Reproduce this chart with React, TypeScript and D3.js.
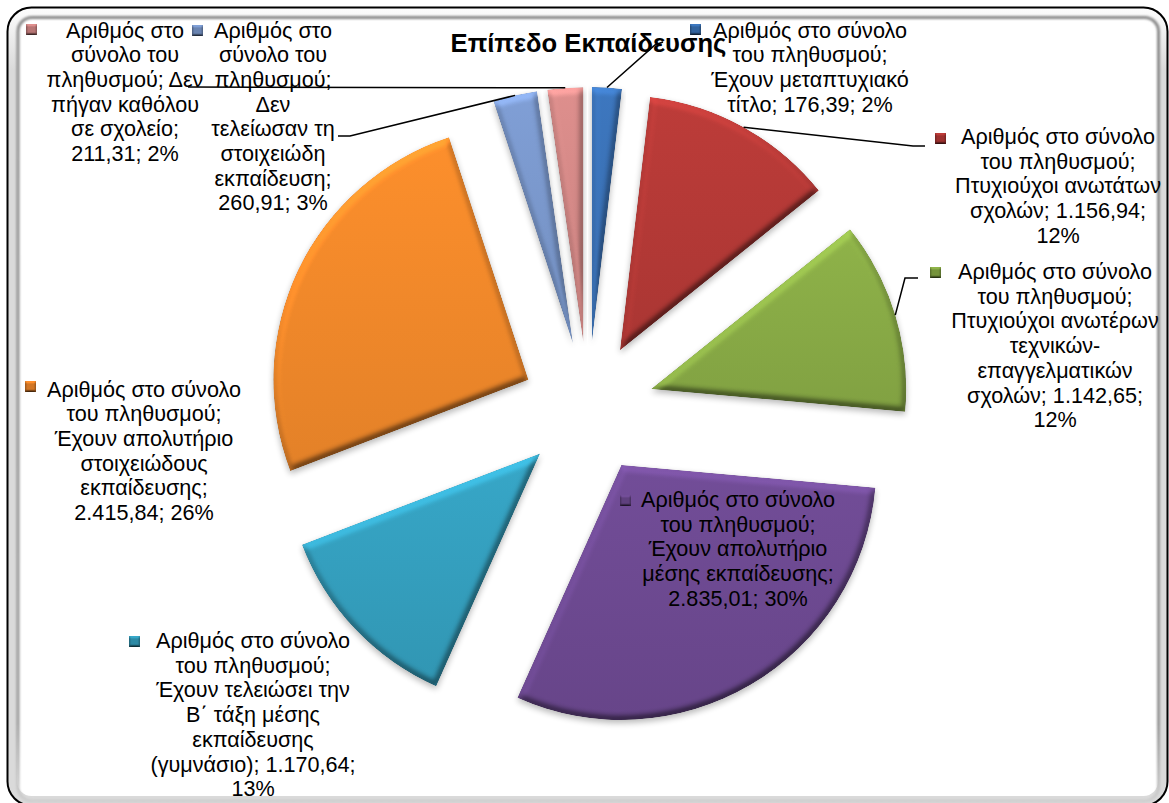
import React from "react";
import * as d3 from "d3";

// Education level of the population (thousands), clockwise from 12 o'clock
const levelNames = [
  "Έχουν μεταπτυχιακό τίτλο",
  "Πτυχιούχοι ανωτάτων σχολών",
  "Πτυχιούχοι ανωτέρων τεχνικών-επαγγελματικών σχολών",
  "Έχουν απολυτήριο μέσης εκπαίδευσης",
  "Έχουν τελειώσει την Β΄ τάξη μέσης εκπαίδευσης (γυμνάσιο)",
  "Έχουν απολυτήριο στοιχειώδους εκπαίδευσης",
  "Δεν τελείωσαν τη στοιχειώδη εκπαίδευση",
  "Δεν πήγαν καθόλου σε σχολείο",
];
const populationValues = [176.39, 1156.94, 1142.65, 2835.01, 1170.64, 2415.84, 260.91, 211.31];
const sliceColors = ["#3b74ba", "#b83a37", "#8bae47", "#6f4b94", "#35a2c2", "#f68b2b", "#7c9bd0", "#d88b89"];

// Wrapped text of each data label
const labelLines = [
  ["Αριθμός στο σύνολο", "του πληθυσμού;", "Έχουν μεταπτυχιακό", "τίτλο; 176,39; 2%"],
  ["Αριθμός στο σύνολο", "του πληθυσμού;", "Πτυχιούχοι ανωτάτων", "σχολών; 1.156,94;", "12%"],
  ["Αριθμός στο σύνολο", "του πληθυσμού;", "Πτυχιούχοι ανωτέρων", "τεχνικών-", "επαγγελματικών", "σχολών; 1.142,65;", "12%"],
  ["Αριθμός στο σύνολο", "του πληθυσμού;", "Έχουν απολυτήριο", "μέσης εκπαίδευσης;", "2.835,01; 30%"],
  ["Αριθμός στο σύνολο", "του πληθυσμού;", "Έχουν τελειώσει την", "Β΄ τάξη μέσης", "εκπαίδευσης", "(γυμνάσιο); 1.170,64;", "13%"],
  ["Αριθμός στο σύνολο", "του πληθυσμού;", "Έχουν απολυτήριο", "στοιχειώδους", "εκπαίδευσης;", "2.415,84; 26%"],
  ["Αριθμός στο", "σύνολο του", "πληθυσμού;", "Δεν", "τελείωσαν τη", "στοιχειώδη", "εκπαίδευση;", "260,91; 3%"],
  ["Αριθμός στο", "σύνολο του", "πληθυσμού; Δεν", "πήγαν καθόλου", "σε σχολείο;", "211,31; 2%"],
];

// Label placement: text centre, first baseline, legend key corner
const labelX = [810, 1058, 1055, 738, 253, 144, 273, 125];
const labelY = [37.5, 144, 279, 507, 648, 396.5, 37.5, 37.5];
const keyX = [690, 935, 930, 620, 129, 25, 192, 26];
const keyY = [24, 133, 267, 495, 636, 381, 25, 24];

// Leader line bend points, from the slice edge outward; empty where no line is drawn
const leaderBends: number[][][] = [
  [[655, 45], [663, 42]],
  [[913, 146], [925, 146]],
  [[905, 278], [918, 278]],
  [],
  [],
  [],
  [[350, 136], [338, 136]],
  [[188, 87]],
];

const CX = 588;
const CY = 408;
const RADIUS = 255;
const EXPLODE = 66;
const LINE_HEIGHT = 24.7;
const FONT = "'Liberation Sans', Arial, sans-serif";

export default function App() {
  const pie = d3.pie<number>().sort(null).startAngle(0).endAngle(2 * Math.PI);
  const arcs = pie(populationValues);
  const arc = d3.arc<d3.PieArcDatum<number>>().innerRadius(0).outerRadius(RADIUS);

  const polar = (a: number, r: number): [number, number] => [
    CX + Math.sin(a) * r,
    CY - Math.cos(a) * r,
  ];
  const mid = (d: d3.PieArcDatum<number>) => (d.startAngle + d.endAngle) / 2;
  const leader = d3.line();

  return (
    <svg
      width={1169}
      height={803}
      style={{ position: "absolute", left: 0, top: 0, display: "block" }}
    >
      <defs>
        {/* Rim bevel: the height map is eroded so the lit band sits just inside the edge */}
        <filter id="bevel" x="-10%" y="-10%" width="120%" height="125%" colorInterpolationFilters="sRGB">
          <feMorphology in="SourceAlpha" operator="erode" radius="1" result="inner" />
          <feGaussianBlur in="inner" stdDeviation="3" result="soft" />
          <feDiffuseLighting in="soft" surfaceScale="2.6" diffuseConstant="1" lightingColor="#fff" result="light">
            <feDistantLight azimuth="250" elevation="60" />
          </feDiffuseLighting>
          <feComposite in="SourceGraphic" in2="light" operator="arithmetic" k1="1.155" k2="0" k3="0" k4="0" result="lit" />
          <feComposite in="lit" in2="SourceAlpha" operator="in" result="shape" />
          <feGaussianBlur in="SourceAlpha" stdDeviation="3" result="shadowBlur" />
          <feOffset in="shadowBlur" dy="3" result="shadowOff" />
          <feComponentTransfer in="shadowOff" result="shadow">
            <feFuncA type="linear" slope="0.28" />
          </feComponentTransfer>
          <feMerge>
            <feMergeNode in="shadow" />
            <feMergeNode in="shape" />
          </feMerge>
        </filter>
        <filter id="keyBevel" x="-20%" y="-20%" width="140%" height="140%" colorInterpolationFilters="sRGB">
          <feGaussianBlur in="SourceAlpha" stdDeviation="1.1" result="soft" />
          <feDiffuseLighting in="soft" surfaceScale="1.4" diffuseConstant="1" lightingColor="#fff" result="light">
            <feDistantLight azimuth="270" elevation="55" />
          </feDiffuseLighting>
          <feComposite in="SourceGraphic" in2="light" operator="arithmetic" k1="1.22" k2="0" k3="0" k4="0" result="lit" />
          <feComposite in="lit" in2="SourceAlpha" operator="in" />
        </filter>
        {sliceColors.map((c, i) => (
          <linearGradient key={c} id={`body${i}`} x1="0" x2="0" y1="0" y2="1">
            <stop offset="0" stopColor={d3.color(c)?.brighter(0.08).formatHex()} />
            <stop offset="1" stopColor={d3.color(c)?.darker(0.22).formatHex()} />
          </linearGradient>
        ))}
        <linearGradient id="frameBand" gradientUnits="userSpaceOnUse" x1="0" x2="0" y1="8" y2="70">
          <stop offset="0" stopColor="#fdfdfd" />
          <stop offset="1" stopColor="#dadada" />
        </linearGradient>
        <linearGradient id="frameEdge" gradientUnits="userSpaceOnUse" x1="0" x2="0" y1="17" y2="802">
          <stop offset="0" stopColor="#8a8a8a" />
          <stop offset="0.9" stopColor="#969696" />
          <stop offset="1" stopColor="#cfcfcf" />
        </linearGradient>
        <filter id="frameSoft" x="-2%" y="-2%" width="104%" height="104%">
          <feGaussianBlur stdDeviation="0.9" />
        </filter>
        <clipPath id="frameClip">
          <rect x={7.5} y={7.5} width={1160} height={798} rx={24} />
        </clipPath>
      </defs>

      <rect width={1169} height={803} fill="#fff" />

      {/* Chart frame with its inset band */}
      <g clipPath="url(#frameClip)">
        <rect
          x={12.5}
          y={12.5}
          width={1150}
          height={788}
          rx={19}
          fill="none"
          stroke="url(#frameBand)"
          strokeWidth={9}
        />
        <rect
          x={18}
          y={17.5}
          width={1140.5}
          height={783.5}
          rx={14}
          fill="none"
          stroke="url(#frameEdge)"
          strokeWidth={3}
          filter="url(#frameSoft)"
        />
      </g>
      <rect x={7.5} y={7.5} width={1160} height={798} rx={24} fill="none" stroke="#000" strokeWidth={2} />

      {/* Exploded pie slices */}
      {arcs.map((d, i) => {
        const [tx, ty] = polar(mid(d), EXPLODE);
        return (
          <path
            key={levelNames[i]}
            d={arc(d) ?? ""}
            transform={`translate(${tx},${ty})`}
            fill={`url(#body${i})`}
            filter="url(#bevel)"
          />
        );
      })}

      <text
        x={588.5}
        y={52}
        textAnchor="middle"
        fontFamily={FONT}
        fontWeight="bold"
        fontSize={25.6}
        fill="#000"
      >
        Επίπεδο Εκπαίδευσης
      </text>

      {/* Leader lines run from the middle of each slice's rim */}
      {arcs.map((d, i) =>
        leaderBends[i].length ? (
          <path
            key={i}
            d={leader([polar(mid(d), RADIUS + EXPLODE), ...(leaderBends[i] as [number, number][])]) ?? ""}
            fill="none"
            stroke="#000"
            strokeWidth={1.5}
          />
        ) : null,
      )}

      {/* Data labels with their colour keys */}
      {labelLines.map((lines, i) => (
        <g key={i}>
          <rect
            x={keyX[i]}
            y={keyY[i]}
            width={11}
            height={11}
            fill={d3.color(sliceColors[i])?.darker(0.45).formatHex()}
            filter="url(#keyBevel)"
          />
          <text textAnchor="middle" fontFamily={FONT} fontSize={21.6} fill="#000">
            {lines.map((line, j) => (
              <tspan key={j} x={labelX[i]} y={labelY[i] + j * LINE_HEIGHT}>
                {line}
              </tspan>
            ))}
          </text>
        </g>
      ))}
    </svg>
  );
}
